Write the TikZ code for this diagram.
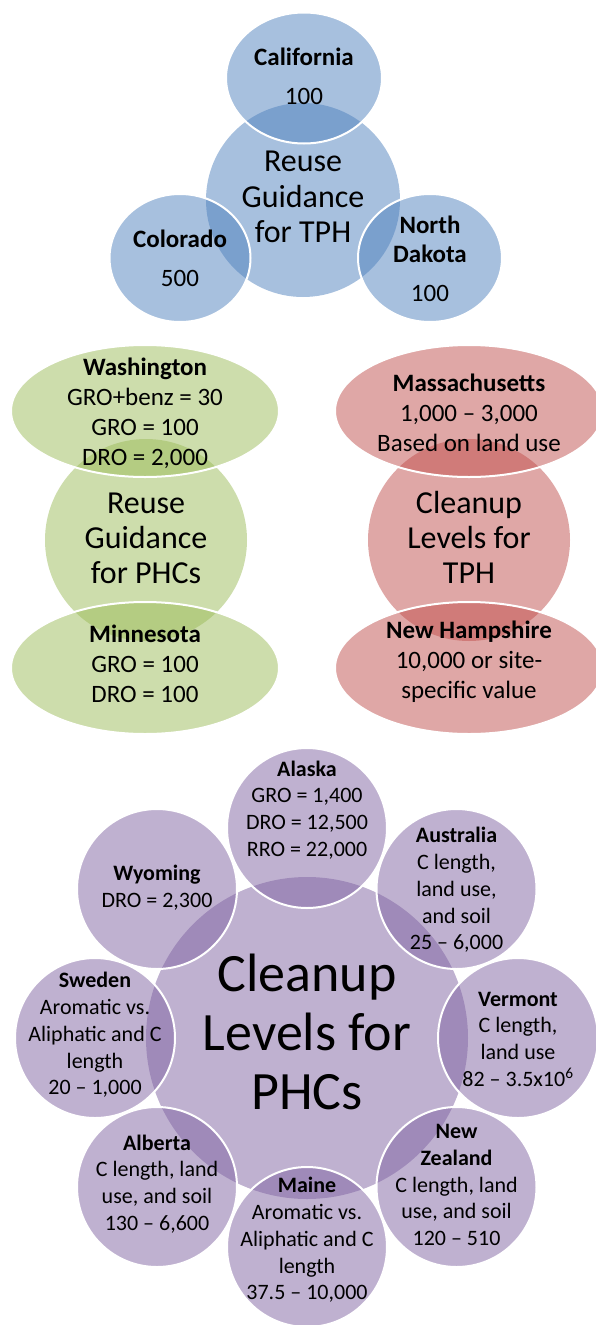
\documentclass[tikz,border=0pt]{standalone}
\usepackage{fontspec}
\setmainfont{Carlito}
\usetikzlibrary{shapes.geometric}
\definecolor{blueC}{RGB}{79,129,189}
\definecolor{greenC}{RGB}{155,187,89}
\definecolor{redC}{RGB}{192,80,77}
\definecolor{purpleC}{RGB}{128,100,162}
\tikzset{
  hub/.style={circle, inner sep=0pt, outer sep=0pt, fill opacity=0.5, draw=none},
  satc/.style={circle, inner sep=0pt, outer sep=0pt, fill opacity=0.5, draw=white, draw opacity=1, line width=2pt},
  sate/.style={ellipse, inner sep=0pt, outer sep=0pt, fill opacity=0.5, draw=white, draw opacity=1, line width=2pt},
  lbl/.style={align=center, inner sep=0pt, text=black},
  smalltop/.style={lbl, font=\fontsize{25}{28.5}\selectfont},
  smallmid/.style={lbl, font=\fontsize{25}{30}\selectfont},
  smallbot/.style={lbl, font=\fontsize{22}{26.7}\selectfont},
  bigtop/.style={lbl, font=\fontsize{32}{35.5}\selectfont},
  bigmid/.style={lbl, font=\fontsize{32}{35}\selectfont},
  bigbot/.style={lbl, font=\fontsize{54}{59}\selectfont}
}
\begin{document}
\begin{tikzpicture}[x=1pt,y=-1pt]
\useasboundingbox (0,0) rectangle (595,1325);

% ---------- top cluster (blue) ----------
\node[hub, fill=blueC, minimum size=194pt] (tphR) at (303,200) {};
\node[sate, fill=blueC, minimum width=156pt, minimum height=131pt] (cal) at (304,78) {};
\node[sate, fill=blueC, minimum width=141pt, minimum height=128pt] (col) at (180,258) {};
\node[sate, fill=blueC, minimum width=144pt, minimum height=128pt] (ndk) at (430,258) {};

% ---------- middle left (green) ----------
\node[hub, fill=greenC, minimum size=202pt] (phcR) at (146,540) {};
\node[sate, fill=greenC, minimum width=268pt, minimum height=132pt] (wa) at (145,411) {};
\node[sate, fill=greenC, minimum width=268pt, minimum height=132pt] (mn) at (145,668) {};

% ---------- middle right (red) ----------
\node[hub, fill=redC, minimum size=202pt] (tphC) at (469,540) {};
\node[sate, fill=redC, minimum width=268pt, minimum height=132pt] (ma) at (469,411) {};
\node[sate, fill=redC, minimum width=268pt, minimum height=132pt] (nh) at (469,668) {};

% ---------- bottom cluster (purple) ----------
\node[hub, fill=purpleC, minimum size=322pt] (phcC) at (307,1038) {};
\node[satc, fill=purpleC, minimum size=160pt] (ak) at (307,828) {};
\node[satc, fill=purpleC, minimum size=160pt] (au) at (456.5,889) {};
\node[satc, fill=purpleC, minimum size=160pt] (vt) at (518,1038) {};
\node[satc, fill=purpleC, minimum size=160pt] (nz) at (456.5,1187) {};
\node[satc, fill=purpleC, minimum size=160pt] (me) at (307,1247) {};
\node[satc, fill=purpleC, minimum size=160pt] (ab) at (157,1187) {};
\node[satc, fill=purpleC, minimum size=160pt] (se) at (95,1038) {};
\node[satc, fill=purpleC, minimum size=160pt] (wy) at (157,889) {};

% ---------- labels ----------
\node[bigtop] (tphRt) at (303,197) {Reuse\\Guidance\\for TPH};
\node[smalltop] (calt) at (304,76) {\textbf{California}\\[10.5pt]100};
\node[smalltop] (colt) at (180,258) {\textbf{Colorado}\\[10.5pt]500};
\node[smalltop] (ndkt) at (430,259) {\textbf{North}\\\textbf{Dakota}\\[10.5pt]100};

\node[bigmid] (phcRt) at (146,538) {Reuse\\Guidance\\for PHCs};
\node[smallmid] (wat) at (145,413) {\textbf{Washington}\\GRO+benz = 30\\GRO = 100\\DRO = 2,000};
\node[smallmid] (mnt) at (145,664) {\textbf{Minnesota}\\GRO = 100\\DRO = 100};

\node[bigmid] (tphCt) at (469,537) {Cleanup\\Levels for\\TPH};
\node[smallmid] (mat) at (469,413) {\textbf{Massachusetts}\\1,000 – 3,000\\Based on land use};
\node[smallmid] (nht) at (469,662) {\textbf{New Hampshire}\\10,000 or site-\\specific value};

\node[bigbot] (phcCt) at (307,1032) {Cleanup\\Levels for\\PHCs};
\node[smallbot] (akt) at (307,810) {\textbf{Alaska}\\GRO = 1,400\\DRO = 12,500\\RRO = 22,000};
\node[smallbot] (aut) at (456.5,890) {\textbf{Australia}\\C length,\\land use,\\and soil\\25 – 6,000};
\node[smallbot] (vtt) at (518,1039) {\textbf{Vermont}\\C length,\\land use\\82 – 3.5x10\textsuperscript{6}};
\node[smallbot] (nzt) at (456.5,1185) {\textbf{New}\\\textbf{Zealand}\\C length, land\\use, and soil\\120 – 510};
\node[smallbot] (met) at (307,1240) {\textbf{Maine}\\Aromatic vs.\\Aliphatic and C\\length\\37.5 – 10,000};
\node[smallbot] (abt) at (157,1184) {\textbf{Alberta}\\C length, land\\use, and soil\\130 – 6,600};
\node[smallbot] (set) at (95,1035) {\textbf{Sweden}\\Aromatic vs.\\Aliphatic and C\\length\\20 – 1,000};
\node[smallbot] (wyt) at (157,888) {\textbf{Wyoming}\\DRO = 2,300};
\end{tikzpicture}
\end{document}
